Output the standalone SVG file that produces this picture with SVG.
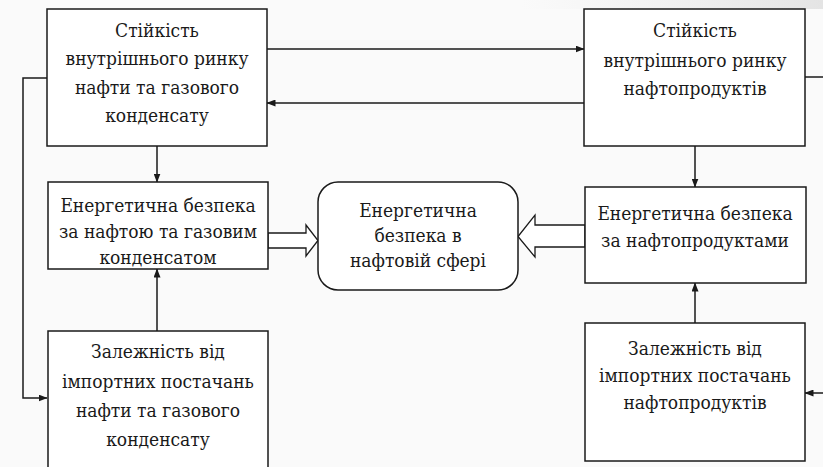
<svg xmlns="http://www.w3.org/2000/svg" width="823" height="467" viewBox="0 0 823 467">
<style>
.box{fill:#ffffff;stroke:#1a1a1a;stroke-width:1.5}
.ln{fill:none;stroke:#1a1a1a;stroke-width:1.5}
.hol{fill:#ffffff;stroke:#1a1a1a;stroke-width:1.3}
</style>
<defs>
<marker id="ah" markerWidth="9" markerHeight="7" refX="8.5" refY="3.5" orient="auto" markerUnits="userSpaceOnUse">
<path d="M0,0 L9,3.5 L0,7 Z" fill="#1a1a1a"/>
</marker>
<linearGradient id="topg" x1="0" y1="0" x2="1" y2="0">
<stop offset="0" stop-color="#ececec" stop-opacity="0"/>
<stop offset="1" stop-color="#e4e4e4" stop-opacity="1"/>
</linearGradient>
</defs>
<rect x="0" y="0" width="823" height="467" fill="#fafafa"/>
<rect x="520" y="0" width="303" height="9" fill="url(#topg)"/>

<g id="connectors">
<path class="ln" d="M267,49 H584" marker-end="url(#ah)"/>
<path class="ln" d="M584,103 H267" marker-end="url(#ah)"/>
<path class="ln" d="M47,78 H23 V398 H47" marker-end="url(#ah)"/>
<path class="ln" d="M157,146 V182" marker-end="url(#ah)"/>
<path class="ln" d="M157,331 V269" marker-end="url(#ah)"/>
<path class="ln" d="M695,146 V187" marker-end="url(#ah)"/>
<path class="ln" d="M695,323 V283" marker-end="url(#ah)"/>
<path class="ln" d="M805,77 H823"/>
<path class="ln" d="M823,393 H805" marker-end="url(#ah)"/>
<polygon class="hol" points="268,233 306,233 306,225 318,240.5 306,256 306,248 268,248"/>
<polygon class="hol" points="585,225 535,225 535,215 518,236.5 535,257 535,247 585,247"/>
</g>

<g font-family="DejaVu Serif Condensed, DejaVu Serif, serif" font-stretch="condensed" font-size="19" fill="#1a1a1a" text-anchor="middle">
<g id="n1">
<rect class="box" x="47" y="9" width="220" height="137"/>
<text x="157" y="37">Стійкість</text>
<text x="157" y="65">внутрішнього ринку</text>
<text x="157" y="94">нафти та газового</text>
<text x="157" y="122">конденсату</text>
</g>
<g id="n2">
<rect class="box" x="584" y="9" width="221" height="137"/>
<text x="695" y="37">Стійкість</text>
<text x="695" y="67">внутрішнього ринку</text>
<text x="695" y="95">нафтопродуктів</text>
</g>
<g id="n3">
<rect class="box" x="48" y="182" width="220" height="87"/>
<text x="158" y="212">Енергетична безпека</text>
<text x="158" y="238">за нафтою та газовим</text>
<text x="158" y="264">конденсатом</text>
</g>
<g id="n4">
<rect class="box" x="318" y="182" width="200" height="108" rx="20" ry="20"/>
<text x="418" y="217">Енергетична</text>
<text x="418" y="242">безпека в</text>
<text x="418" y="267">нафтовій сфері</text>
</g>
<g id="n5">
<rect class="box" x="585" y="187" width="221" height="96"/>
<text x="695" y="220">Енергетична безпека</text>
<text x="695" y="247">за нафтопродуктами</text>
</g>
<g id="n6">
<rect class="box" x="48" y="331" width="220" height="145"/>
<text x="158" y="358">Залежність від</text>
<text x="158" y="388">імпортних постачань</text>
<text x="158" y="417">нафти та газового</text>
<text x="158" y="446">конденсату</text>
</g>
<g id="n7">
<rect class="box" x="585" y="323" width="220" height="138"/>
<text x="695" y="355">Залежність від</text>
<text x="695" y="382">імпортних постачань</text>
<text x="695" y="409">нафтопродуктів</text>
</g>
</g>
</svg>
